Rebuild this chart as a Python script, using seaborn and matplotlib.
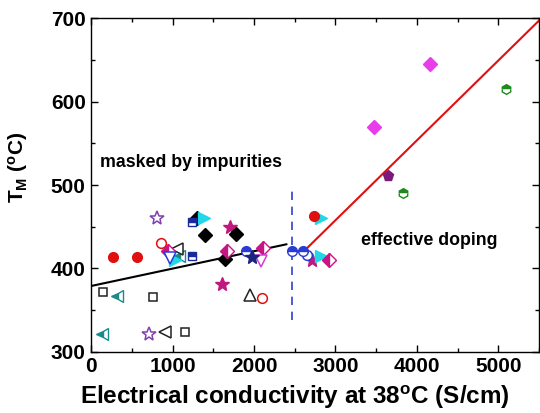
import matplotlib
matplotlib.use('Agg')
import matplotlib.pyplot as plt
import seaborn as sns
import pandas as pd
import numpy as np
from matplotlib.ticker import MultipleLocator

# --- data ---
red_fill_x = [270, 560, 2740]
red_fill_y = [414, 414, 463]
red_open_x = [856, 2100]
red_open_y = [430, 365]
sq_open_x = [147, 758, 1149]
sq_open_y = [372, 366, 324]
teal_tri_x = [134, 318, 1076]
teal_tri_y = [321, 367, 415]
star_open_x = [709, 807]
star_open_y = [321, 460]
blk_ltri_x = [905, 1051]
blk_ltri_y = [324, 423]
blk_utri_x = [1956]
blk_utri_y = [368]
crim_star_x = [1601, 1699, 2714]
crim_star_y = [381, 450, 410]
blk_dia_x = [1296, 1394, 1638, 1773]
blk_dia_y = [460, 440, 411, 441]
cyan_tri_x = [1030, 1381, 2824, 2824]
cyan_tri_y = [410, 460, 460, 415]
navy_sq_x = [1235, 1235]
navy_sq_y = [456, 415]
mag_half_x = [941, 1663, 2115, 2922]
mag_half_y = [421, 421, 425, 410]
blue_dtri_x = [966]
blue_dtri_y = [413]
vio_dtri_x = [2090]
vio_dtri_y = [409]
blue_half_x = [1907, 2469, 2604]
blue_half_y = [421, 421, 421]
blue_open_x = [2653]
blue_open_y = [416]
navy_star_x = [1980]
navy_star_y = [414]
mag_dia_x = [3472, 4156]
mag_dia_y = [569, 645]
pent_x = [3643]
pent_y = [511]
hex_x = [3826, 5098]
hex_y = [490, 615]

fit_low_x = [0, 2400]
fit_low_y = [379, 429]
fit_high_x = [2616, 5500]
fit_high_y = [421, 697]

sns.set_style('ticks')
plt.rcParams['font.family'] = ['Liberation Sans', 'DejaVu Sans']
plt.rcParams['mathtext.fontset'] = 'custom'
plt.rcParams['mathtext.rm'] = 'Liberation Sans:bold'
plt.rcParams['mathtext.it'] = 'Liberation Sans:bold'
plt.rcParams['mathtext.bf'] = 'Liberation Sans:bold'
for key in ['text.color', 'axes.labelcolor', 'xtick.color', 'ytick.color']:
    plt.rcParams[key] = 'black'

fig, ax = plt.subplots(figsize=(5.4, 4.13), dpi=100)
fig.subplots_adjust(left=0.169, right=0.998, top=0.956, bottom=0.148)

# fit lines
sns.lineplot(x=fit_low_x, y=fit_low_y, color='black', linewidth=1.5, ax=ax)
sns.lineplot(x=fit_high_x, y=fit_high_y, color='#e01010', linewidth=1.5, ax=ax)
ax.plot([2470, 2470], [338, 499], color='#3040d0', linestyle=(0, (5, 4)), linewidth=1.2)

ms = 7

def full(x, y, marker, color, size=ms):
    ax.plot(x, y, linestyle='none', marker=marker, color=color, markersize=size,
            markeredgecolor=color)

def hollow(x, y, marker, color, size=ms):
    ax.plot(x, y, linestyle='none', marker=marker, markersize=size,
            markerfacecolor='white', markeredgecolor=color, markeredgewidth=1.1)

def half(x, y, marker, color, style, size=ms):
    ax.plot(x, y, linestyle='none', marker=marker, markersize=size, color=color,
            fillstyle=style, markerfacecoloralt='white', markeredgecolor=color,
            markeredgewidth=1.0)

hollow(sq_open_x, sq_open_y, 's', '#222222', 6)
half(teal_tri_x, teal_tri_y, '<', '#1a8a8a', 'left', 8)
hollow(star_open_x, star_open_y, '*', '#8040b0', 10)
hollow(blk_ltri_x, blk_ltri_y, '<', '#222222', 8)
hollow(blk_utri_x, blk_utri_y, '^', '#222222', 8)
hollow(red_open_x, red_open_y, 'o', '#e01010', 7)
full(crim_star_x, crim_star_y, '*', '#c0187f', 10)
full(blk_dia_x, blk_dia_y, 'D', 'black', 7)
full(cyan_tri_x, cyan_tri_y, '>', '#20d8e8', 8)
half(navy_sq_x, navy_sq_y, 's', '#1a2a9a', 'top', 6)
half(mag_half_x, mag_half_y, 'D', '#c71585', 'left', 7)
hollow(blue_dtri_x, blue_dtri_y, 'v', '#2b3bd6', 8)
hollow(vio_dtri_x, vio_dtri_y, 'v', '#d63cd6', 8)
hollow(blue_open_x, blue_open_y, 'o', '#2b3bd6', 7)
half(blue_half_x, blue_half_y, 'o', '#2b3bd6', 'top', 7)
full(navy_star_x, navy_star_y, '*', '#1a237e', 10)
full(red_fill_x, red_fill_y, 'o', '#e01010', 7)
full(mag_dia_x, mag_dia_y, 'D', '#e83de8', 7)
full(pent_x, pent_y, 'p', '#7b1a7b', 8)
half(hex_x, hex_y, 'h', '#1e8a1e', 'top', 7)

ax.text(110, 527, 'masked by impurities', fontsize=12.8, fontweight='bold', va='center')
ax.text(3310, 434, 'effective doping', fontsize=12.8, fontweight='bold', va='center')

ax.set_xlim(0, 5500)
ax.set_ylim(300, 700)
ax.xaxis.set_major_locator(MultipleLocator(1000))
ax.xaxis.set_minor_locator(MultipleLocator(500))
ax.yaxis.set_major_locator(MultipleLocator(100))
ax.yaxis.set_minor_locator(MultipleLocator(50))
ax.tick_params(which='both', direction='in', top=True, right=True, width=1)
ax.tick_params(which='major', length=5, labelsize=15, pad=4)
ax.tick_params(which='minor', length=3)
for lab in ax.get_xticklabels() + ax.get_yticklabels():
    lab.set_fontweight('bold')
for sp in ax.spines.values():
    sp.set_linewidth(1)
    sp.set_color('black')

ax.set_xlabel('Electrical conductivity at 38$^{\\mathrm{o}}$C (S/cm)', fontsize=17.5,
              fontweight='bold')
ax.xaxis.set_label_coords(0.455, -0.095)
ax.set_ylabel('T$_{\\mathrm{M}}$ ($^{\\mathrm{o}}$C)', fontsize=15, fontweight='bold')
ax.yaxis.set_label_coords(-0.136, 0.554)

plt.savefig('out.png', dpi=100)
